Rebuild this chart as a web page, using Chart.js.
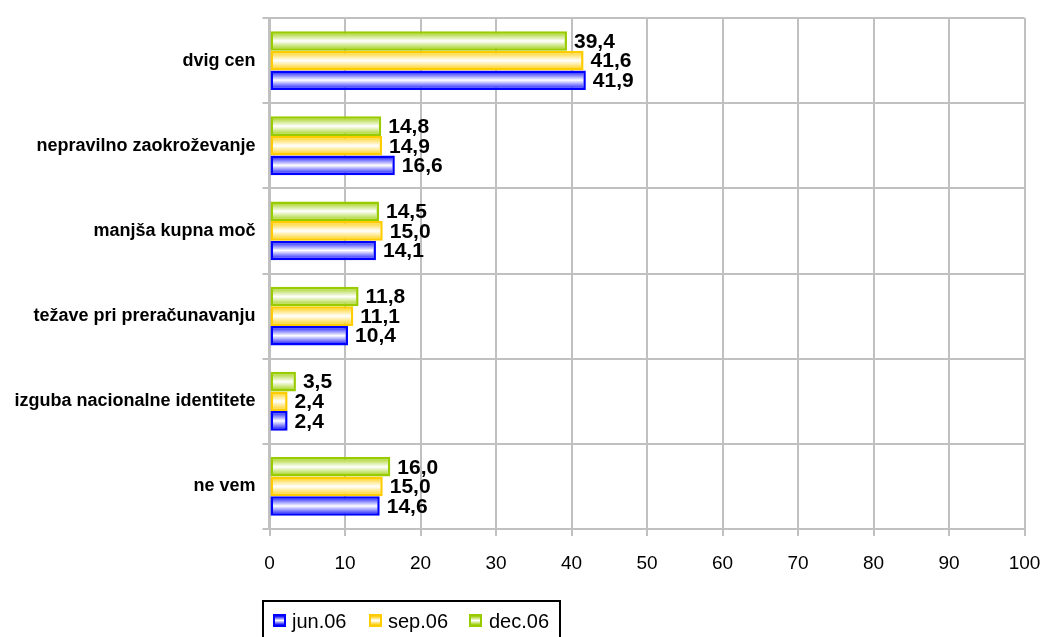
<!DOCTYPE html>
<html>
<head>
<meta charset="utf-8">
<script src="https://cdn.jsdelivr.net/npm/chart.js@4/dist/chart.umd.min.js"></script>
<style>
  html, body { margin: 0; padding: 0; background: #fff; overflow: hidden; }
  #wrap { position: relative; width: 1044px; height: 637px; }
  #legend {
    position: absolute; left: 262px; top: 600px; width: 295px; height: 44px;
    border: 2px solid #000; font-family: Arial, "Liberation Sans", sans-serif; font-size: 20px;
  }
  #legend .item { position: absolute; top: 8px; line-height: 22px; }
  #legend .box { position: absolute; top: 4px; width: 9px; height: 9px; border: 2px solid; }
  #legend .txt { position: absolute; white-space: nowrap; }
</style>
</head>
<body>
<div id="wrap">
  <canvas id="myChart" width="1044" height="637"></canvas>
  <div id="legend"></div>
</div>
<script>
window.onload = function() {

let categories = ['dvig cen', 'nepravilno zaokroževanje', 'manjša kupna moč', 'težave pri preračunavanju', 'izguba nacionalne identitete', 'ne vem'];
let jun06 = [41.9, 16.6, 14.1, 10.4, 2.4, 14.6];
let sep06 = [41.6, 14.9, 15.0, 11.1, 2.4, 15.0];
let dec06 = [39.4, 14.8, 14.5, 11.8, 3.5, 16.0];
let xTicks = [0, 10, 20, 30, 40, 50, 60, 70, 80, 90, 100];

let colors = { jun: '#0000ff', sep: '#ffcc00', dec: '#99cc00' };

// bars get a top-to-bottom gradient: colour at edges, white in the middle
let gradientBars = {
    id: 'gradientBars',
    beforeDatasetsDraw(chart) {
        let ctx = chart.ctx;
        chart.data.datasets.forEach((ds, i) => {
            let meta = chart.getDatasetMeta(i);
            meta.data.forEach(bar => {
                let h = bar.height;
                let g = ctx.createLinearGradient(0, bar.y - h / 2, 0, bar.y + h / 2);
                g.addColorStop(0, ds.borderColor);
                g.addColorStop(0.5, '#ffffff');
                g.addColorStop(1, ds.borderColor);
                bar.options = Object.assign({}, bar.options, { backgroundColor: g });
            });
        });
    },
    afterDatasetsDraw(chart) {
        let ctx = chart.ctx;
        ctx.save();
        ctx.font = 'bold 21px Arial, "Liberation Sans", sans-serif';
        ctx.fillStyle = '#000';
        ctx.textBaseline = 'middle';
        ctx.textAlign = 'left';
        chart.data.datasets.forEach((ds, i) => {
            let meta = chart.getDatasetMeta(i);
            meta.data.forEach((bar, j) => {
                let txt = ds.data[j].toFixed(1).replace('.', ',');
                ctx.fillText(txt, bar.x + 7, bar.y + 1);
            });
        });
        ctx.restore();
    }
};

let chart = document.getElementById('myChart').getContext('2d');

let myChart = new Chart(chart, {
    type: 'bar',
    data: {
        labels: categories,
        datasets: [
            { label: 'dec.06', data: dec06, borderColor: colors.dec, backgroundColor: colors.dec, borderWidth: 2.5, borderSkipped: false },
            { label: 'sep.06', data: sep06, borderColor: colors.sep, backgroundColor: colors.sep, borderWidth: 2.5, borderSkipped: false },
            { label: 'jun.06', data: jun06, borderColor: colors.jun, backgroundColor: colors.jun, borderWidth: 2.5, borderSkipped: false }
        ]
    },
    options: {
        indexAxis: 'y',
        responsive: false,
        animation: false,
        categoryPercentage: 0.69,
        barPercentage: 1.0,
        layout: { padding: { top: 18, right: 19.5, bottom: 48, left: 0 } },
        plugins: {
            legend: { display: false },
            tooltip: { enabled: false }
        },
        scales: {
            x: {
                min: 0,
                max: 100,
                afterBuildTicks: s => { s.ticks = xTicks.map(v => ({ value: v })); },
                afterFit: s => { s.height = 60; s.paddingLeft = 0; s.paddingRight = 0; },
                grid: { color: '#c0c0c0', lineWidth: 2, tickLength: 7 },
                border: { color: '#c0c0c0', width: 2 },
                ticks: {
                    color: '#000',
                    padding: 16,
                    maxRotation: 0,
                    font: { family: 'Arial, "Liberation Sans", sans-serif', size: 19 }
                }
            },
            y: {
                afterFit: s => { s.width = 269.5; },
                grid: { color: '#c0c0c0', lineWidth: 2, tickLength: 7, offset: true },
                border: { color: '#c0c0c0', width: 3 },
                ticks: {
                    color: '#000',
                    padding: 7,
                    font: { family: 'Arial, "Liberation Sans", sans-serif', size: 18, weight: 'bold' }
                }
            }
        }
    },
    plugins: [gradientBars]
});

// legend drawn as html below the chart, in the original order
let legendItems = [
    { label: 'jun.06', color: colors.jun, box: 9, text: 28 },
    { label: 'sep.06', color: colors.sep, box: 105, text: 124 },
    { label: 'dec.06', color: colors.dec, box: 205, text: 225 }
];
let legend = document.getElementById('legend');
legendItems.forEach(it => {
    let item = document.createElement('div');
    item.className = 'item';
    item.style.left = '0px';
    let box = document.createElement('span');
    box.className = 'box';
    box.style.left = it.box + 'px';
    box.style.borderColor = it.color;
    box.style.background = 'linear-gradient(' + it.color + ', #fff 50%, ' + it.color + ')';
    let txt = document.createElement('span');
    txt.className = 'txt';
    txt.style.left = it.text + 'px';
    txt.textContent = it.label;
    item.appendChild(box);
    item.appendChild(txt);
    legend.appendChild(item);
});
}
</script>
</body>
</html>
